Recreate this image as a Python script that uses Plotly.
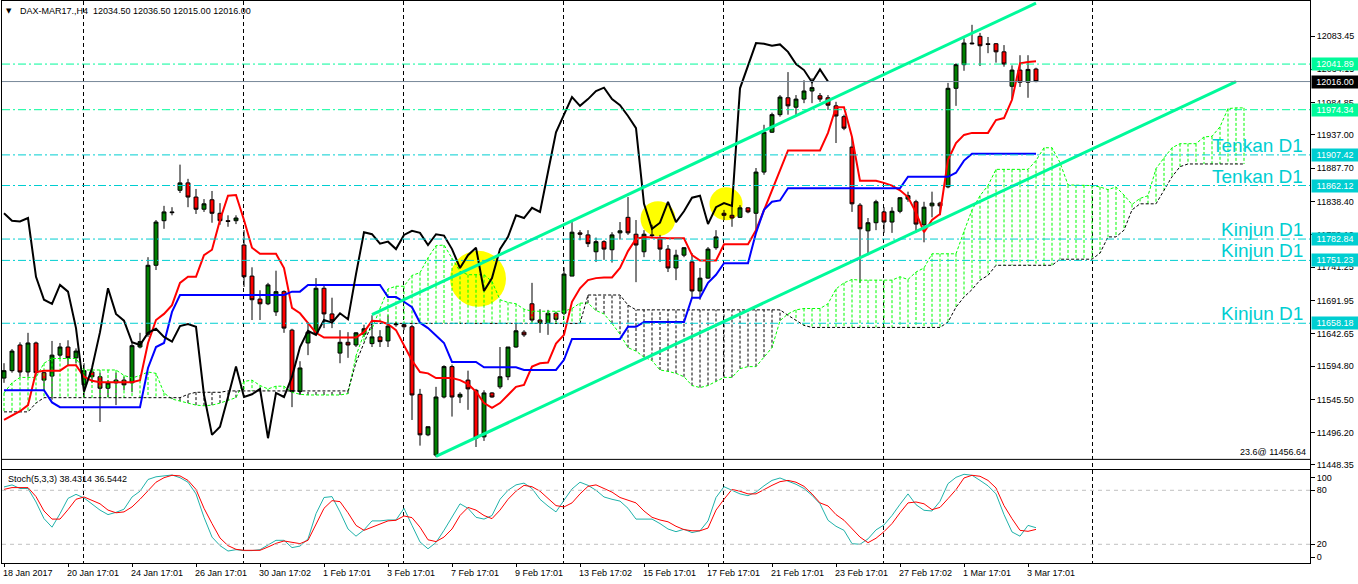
import plotly.graph_objects as go

# DAX-MAR17 H4 candles, one entry per bar (bar 0 = 18 Jan 2017)
bar_open = [
    11577, 11588, 11626, 11586, 11629, 11585, 11580, 11611, 11623, 11607,
    11567, 11586, 11579, 11562, 11570, 11574, 11570, 11623, 11642, 11744,
    11810, 11823, 11855, 11866, 11845, 11827, 11841, 11821, 11810, 11810,
    11774, 11728, 11694, 11687, 11675, 11705, 11648, 11557, 11629, 11644,
    11710, 11672, 11614, 11630, 11626, 11642, 11628, 11638, 11632, 11656,
    11656, 11653, 11553, 11493, 11463, 11549, 11594, 11549, 11574, 11559,
    11490, 11555, 11564, 11579, 11623, 11645, 11687, 11663, 11659, 11673,
    11673, 11728, 11792, 11789, 11764, 11779, 11767, 11792, 11815, 11790,
    11764, 11789, 11783, 11768, 11740, 11759, 11749, 11706, 11725, 11770,
    11821, 11818, 11815, 11829, 11821, 11882, 11941, 11967, 11992, 11978,
    11990, 12002, 11995, 11992, 11980, 11964, 11919, 11833, 11795, 11807,
    11823, 11808, 11824, 11842, 11838, 11804, 11832, 11836, 11860, 12006,
    12041, 12073, 12083, 12072, 12072, 12060, 12009, 12033, 12015, 12034.5,
]
bar_high = [
    11599, 11620, 11630, 11644, 11631, 11586, 11632, 11629, 11633, 11621,
    11599, 11592, 11585, 11574, 11585, 11579, 11629, 11644, 11756, 11811,
    11832, 11830, 11893, 11872, 11857, 11842, 11854, 11836, 11818, 11818,
    11796, 11741, 11707, 11718, 11736, 11707, 11650, 11602, 11660, 11725,
    11715, 11696, 11648, 11645, 11645, 11656, 11670, 11648, 11670, 11660,
    11659, 11656, 11561, 11505, 11564, 11596, 11597, 11556, 11588, 11561,
    11559, 11556, 11623, 11623, 11659, 11648, 11718, 11679, 11678, 11675,
    11741, 11808, 11796, 11796, 11785, 11781, 11793, 11808, 11845, 11811,
    11796, 11804, 11789, 11774, 11767, 11771, 11762, 11740, 11771, 11796,
    11826, 11838, 11833, 11830, 11888, 11952, 11970, 11996, 12030, 11996,
    12018, 12021, 11999, 11996, 11986, 11967, 11934, 11836, 11814, 11841,
    11830, 11830, 11845, 11853, 11841, 11838, 11853, 11838, 12014, 12043,
    12080, 12100, 12088, 12082, 12073, 12070, 12040, 12055, 12055, 12036.5,
]
bar_low = [
    11570, 11585, 11579, 11579, 11579, 11559, 11545, 11607, 11596, 11599,
    11549, 11570, 11512, 11549, 11537, 11559, 11556, 11621, 11638, 11737,
    11798, 11818, 11851, 11830, 11820, 11823, 11807, 11804, 11801, 11805,
    11712, 11663, 11663, 11685, 11669, 11644, 11534, 11552, 11611, 11641,
    11651, 11651, 11599, 11607, 11623, 11638, 11623, 11623, 11623, 11653,
    11648, 11515, 11477, 11491, 11460, 11547, 11520, 11540, 11530, 11475,
    11484, 11548, 11561, 11574, 11622, 11638, 11660, 11644, 11641, 11660,
    11670, 11728, 11781, 11771, 11749, 11752, 11748, 11782, 11789, 11719,
    11756, 11784, 11749, 11734, 11722, 11756, 11696, 11693, 11724, 11767,
    11811, 11801, 11814, 11821, 11792, 11878, 11940, 11964, 11967, 11964,
    11984, 11984, 11986, 11974, 11925, 11944, 11823, 11718, 11759, 11796,
    11792, 11792, 11821, 11838, 11792, 11778, 11815, 11818, 11858, 11980,
    12032, 12071, 12039, 12058, 12044, 12038, 11989, 12008, 11992, 12015,
]
bar_close = [
    11588, 11617, 11586, 11629, 11585, 11574, 11611, 11623, 11607, 11617,
    11588, 11579, 11562, 11570, 11574, 11567, 11625, 11631, 11744, 11808,
    11823, 11822, 11866, 11845, 11827, 11835, 11821, 11810, 11809, 11814,
    11727, 11693, 11687, 11715, 11705, 11651, 11557, 11592, 11645, 11710,
    11672, 11662, 11630, 11626, 11644, 11650, 11638, 11631, 11654, 11657,
    11653, 11552, 11493, 11505, 11549, 11594, 11549, 11553, 11561, 11488,
    11555, 11549, 11579, 11623, 11647, 11641, 11663, 11659, 11673, 11664,
    11731, 11793, 11790, 11776, 11779, 11768, 11789, 11795, 11792, 11774,
    11790, 11788, 11768, 11740, 11759, 11770, 11706, 11725, 11768, 11786,
    11818, 11814, 11829, 11823, 11882, 11941, 11967, 11993, 11980, 11990,
    12002, 12007, 11990, 11981, 11965, 11947, 11835, 11798, 11807, 11838,
    11808, 11824, 11844, 11847, 11805, 11830, 11836, 11832, 12006, 12041,
    12073, 12072, 12069, 12071, 12060, 12042, 12033, 12015, 12034, 12016,
]

# ichimoku lines
tenkan = [
    11515, 11522, 11528, 11537, 11586, 11588, 11588, 11588, 11596, 11596,
    11579, 11573, 11571, 11571, 11571, 11571, 11571, 11574, 11629, 11663,
    11672, 11685, 11718, 11727, 11727, 11759, 11767, 11811, 11847, 11848,
    11811, 11770, 11761, 11761, 11761, 11740, 11681, 11673, 11659, 11644,
    11637, 11637, 11637, 11637, 11637, 11645, 11662, 11661, 11657, 11648,
    11626, 11603, 11586, 11584, 11577, 11577, 11577, 11574, 11568, 11557,
    11540, 11533, 11540, 11552, 11564, 11567, 11594, 11599, 11600, 11628,
    11641, 11690, 11710, 11722, 11725, 11726, 11726, 11740, 11765, 11783,
    11786, 11785, 11784, 11784, 11784, 11784, 11759, 11751, 11751, 11751,
    11775, 11775, 11775, 11775, 11796, 11826, 11856, 11885, 11914, 11914,
    11914, 11914, 11914, 11940, 11978, 11978, 11934, 11869, 11869, 11869,
    11866, 11862, 11855, 11845, 11822, 11793, 11811, 11820, 11900, 11925,
    11937, 11940, 11940, 11940, 11959, 11962, 11989, 12043, 12045, 12046,
]
kijun = [
    11559, 11559, 11559, 11559, 11559, 11559, 11541, 11534, 11534, 11534,
    11534, 11534, 11534, 11534, 11534, 11534, 11534, 11534, 11592, 11623,
    11629, 11675, 11700, 11700, 11700, 11700, 11700, 11700, 11700, 11700,
    11700, 11700, 11700, 11700, 11700, 11700, 11705, 11705, 11715, 11715,
    11715, 11715, 11715, 11715, 11715, 11715, 11715, 11715, 11697, 11697,
    11690, 11682, 11659, 11651, 11640, 11629, 11601, 11601, 11601, 11601,
    11593, 11593, 11593, 11593, 11593, 11589, 11589, 11589, 11589, 11589,
    11604, 11635, 11635, 11635, 11635, 11635, 11635, 11635, 11653, 11653,
    11660, 11660, 11660, 11660, 11660, 11660, 11696, 11696, 11718, 11730,
    11747, 11747, 11747, 11747, 11792, 11826, 11838, 11840, 11858, 11858,
    11858, 11858, 11858, 11858, 11858, 11858, 11858, 11858, 11858, 11858,
    11858, 11858, 11858, 11875, 11875, 11875, 11875, 11875, 11875, 11881,
    11899, 11909, 11909, 11909, 11909, 11909, 11909, 11909, 11909, 11909,
]
# the cloud runs 26 bars past the last candle
senkou_a = [
    11555, 11570, 11578, 11578, 11578, 11599, 11606, 11606, 11606, 11606,
    11589, 11589, 11589, 11589, 11589, 11581, 11577, 11581, 11586, 11584,
    11555, 11546, 11543, 11540, 11537, 11536,
    11537, 11540, 11544, 11548, 11572, 11574, 11566, 11561, 11565, 11565,
    11556, 11553, 11552, 11552, 11552, 11552, 11552, 11554, 11610, 11643,
    11650, 11680, 11709, 11713, 11713, 11729, 11733, 11755, 11773, 11774,
    11755, 11735, 11730, 11730, 11730, 11720, 11693, 11689, 11687, 11679,
    11676, 11676, 11676, 11676, 11676, 11680, 11688, 11688, 11677, 11672,
    11658, 11642, 11622, 11617, 11608, 11603, 11589, 11587, 11584, 11579,
    11566, 11563, 11566, 11572, 11578, 11578, 11591, 11594, 11594, 11608,
    11622, 11662, 11672, 11678, 11680, 11680, 11680, 11687, 11709, 11718,
    11723, 11722, 11722, 11722, 11722, 11722, 11727, 11723, 11734, 11740,
    11761, 11761, 11761, 11761, 11794, 11826, 11847, 11862, 11886, 11886,
    11886, 11886, 11886, 11899, 11918, 11918, 11896, 11863, 11863, 11863,
    11862, 11860, 11856, 11860, 11848, 11834, 11843, 11847, 11887, 11903,
    11918, 11924, 11924, 11924, 11934, 11935, 11949, 11976, 11977, 11977,
]
senkou_b = [
    11527, 11527, 11527, 11527, 11540, 11548, 11548, 11548, 11548, 11548,
    11548, 11548, 11548, 11548, 11548, 11548, 11548, 11548, 11548, 11548,
    11548, 11548, 11548, 11553, 11556, 11556, 11556, 11556, 11558, 11558,
    11558, 11558, 11558, 11558, 11558, 11558, 11558, 11558, 11558, 11558,
    11558, 11558, 11558, 11558, 11600, 11630, 11658, 11658, 11658, 11658,
    11658, 11658, 11658, 11658, 11658, 11658, 11658, 11658, 11658, 11658,
    11658, 11658, 11658, 11658, 11658, 11658, 11658, 11658, 11658, 11658,
    11658, 11658, 11658, 11700, 11700, 11700, 11700, 11700, 11685, 11678,
    11678, 11678, 11678, 11678, 11678, 11678, 11678, 11678, 11678, 11678,
    11678, 11678, 11678, 11678, 11678, 11678, 11678, 11678, 11670, 11662,
    11655, 11652, 11652, 11652, 11652, 11652, 11652, 11652, 11652, 11652,
    11652, 11652, 11652, 11652, 11652, 11652, 11652, 11652, 11660, 11682,
    11697, 11708, 11722, 11729, 11744, 11744, 11744, 11744, 11744, 11744,
    11744, 11744, 11753, 11753, 11753, 11753, 11753, 11762, 11786, 11786,
    11796, 11826, 11835, 11835, 11835, 11855, 11875, 11890, 11894, 11894,
    11894, 11894, 11894, 11894, 11894, 11894,
]

# Stoch(5,3,3)
stoch_k = [
    83.7, 86, 82, 82, 67, 48.5, 39, 54, 71, 75.5,
    71.5, 65, 58, 53, 55.5, 59, 72.5, 79, 92, 95,
    96, 97, 94, 89, 76, 50, 28, 18.5, 12.5, 14,
    13, 13, 14, 19.6, 24.4, 24.4, 16.3, 18, 26, 54,
    72, 73, 56, 37, 29, 36, 46, 46, 47, 47,
    60, 41, 22.6, 15, 22, 35.5, 50, 65, 60, 50,
    48, 52, 70, 80, 86, 88, 82, 70, 62.5, 56,
    69, 81.5, 89, 85.5, 80, 72.6, 70, 68, 60, 48,
    48, 48, 43, 37, 34, 36.7, 33, 35, 46, 72,
    84, 80, 76, 74, 78, 85, 91, 93.7, 90, 86.7,
    82, 74.4, 65, 46.7, 40, 35.5, 20.7, 20, 26, 36,
    41.5, 52, 64.4, 76, 64, 57.8, 57, 67.8, 87.4, 94.4,
    97.8, 96.7, 91, 85, 76, 53, 33.7, 29, 41, 38.43,
]
stoch_d = [
    81, 83, 83, 83, 73, 57, 48, 48, 58.5, 70,
    72.6, 68.5, 65, 58, 55, 56, 61.5, 70, 80, 89,
    94, 96.7, 96, 91, 81, 60, 43, 27, 18.5, 14.4,
    13.3, 13.3, 13.3, 17, 21, 23.7, 22, 20.7, 24.4, 42,
    60, 68.5, 67.4, 55, 41, 35.5, 39, 42, 46, 46.7,
    51.5, 49.6, 39, 25, 23, 28, 37, 52, 61, 58,
    52, 48.5, 58, 70, 79, 85.5, 84, 79, 70.7, 63,
    61.5, 66, 76, 84.4, 86, 82, 78, 72, 69, 66,
    57, 50, 47, 45, 40, 36.3, 35, 35, 38, 58,
    70, 81, 79, 76, 76, 81, 85.5, 89.6, 91, 89,
    84.4, 76, 66, 62.6, 53, 46.7, 37.8, 28, 21.8, 26.7,
    34, 43, 55, 66, 67, 65, 58.5, 61, 70.7, 80.7,
    93.7, 96.7, 95.6, 91, 82.6, 63, 48.5, 35.5, 34.4, 36.54,
]

date_labels = [
    '18 Jan 2017', '20 Jan 17:01', '24 Jan 17:01', '26 Jan 17:01', '30 Jan 17:02',
    '1 Feb 17:01', '3 Feb 17:01', '7 Feb 17:01', '9 Feb 17:01', '13 Feb 17:02',
    '15 Feb 17:01', '17 Feb 17:01', '21 Feb 17:01', '23 Feb 17:01', '27 Feb 17:02',
    '1 Mar 17:01', '3 Mar 17:01',
]
price_ticks = [12083.45, 12034.15, 11984.85, 11937.00, 11887.70, 11838.40, 11789.10,
               11741.25, 11691.95, 11642.65, 11594.80, 11545.50, 11496.20, 11448.35]

# objects drawn on the chart by hand
level_prices = [12041.89, 12016.00, 11974.34, 11907.42, 11862.12, 11782.84, 11751.23, 11658.18]
level_names = ['', '', '', 'Tenkan D1', 'Tenkan D1', 'Kinjun D1', 'Kinjun D1', 'Kinjun D1']
channel_top_bars = [46, 129]
channel_top_prices = [11671, 12132]
channel_low_bars = [54, 154]
channel_low_prices = [11461, 12016]
fib_price = 11456.64
circle_bars = [59.25, 81.75, 90.25]
circle_prices = [11724, 11813, 11835]
circle_radius_px = [28, 17.5, 16.5]

# colours
MINT = 'rgb(0,250,154)'
TURQ = 'rgb(0,206,209)'
FONT = 'Liberation Sans, Arial, sans-serif'

n_bars = len(bar_close)
bars = list(range(n_bars))
cloud_bars = list(range(len(senkou_a)))
grid_bars = [9.875, 29.875, 49.875, 69.875, 89.875, 109.875, 136]
label_bars = [8 * k for k in range(len(date_labels))]

level_colors = [MINT, 'lightslategray', MINT, TURQ, TURQ, TURQ, TURQ, TURQ]
level_box = [MINT, 'black', MINT, TURQ, TURQ, TURQ, TURQ, TURQ]

# px per bar and per point, used for the highlight circles
px_per_bar = 8.0
px_per_point = 0.6755


def hatch(green):
    # vertical dotted strokes between the two senkou spans, one per bar
    xs, ys = [], []
    for i, (a, b) in enumerate(zip(senkou_a, senkou_b)):
        if (a >= b) == green:
            xs += [i, i, None]
            ys += [a, b, None]
    return xs, ys


fig = go.Figure()

gx, gy = hatch(True)
fig.add_trace(go.Scatter(x=gx, y=gy, mode='lines', line=dict(color='lime', width=1, dash='3px,2px'),
                         hoverinfo='skip'))
bx, by = hatch(False)
fig.add_trace(go.Scatter(x=bx, y=by, mode='lines', line=dict(color='black', width=1, dash='3px,2px'),
                         hoverinfo='skip'))
fig.add_trace(go.Scatter(x=cloud_bars, y=senkou_a, mode='lines',
                         line=dict(color='lime', width=1, dash='3px,2px')))
fig.add_trace(go.Scatter(x=cloud_bars, y=senkou_b, mode='lines',
                         line=dict(color='black', width=1, dash='3px,2px')))

fig.add_trace(go.Candlestick(
    x=bars, open=bar_open, high=bar_high, low=bar_low, close=bar_close,
    increasing=dict(fillcolor='green', line=dict(color='black', width=1)),
    decreasing=dict(fillcolor='red', line=dict(color='black', width=1)),
    whiskerwidth=0,
))

fig.add_trace(go.Scatter(x=bars, y=tenkan, mode='lines', line=dict(color='red', width=2)))
fig.add_trace(go.Scatter(x=bars, y=kijun, mode='lines', line=dict(color='blue', width=2)))
# chikou span = close shifted 26 bars back
fig.add_trace(go.Scatter(x=bars[:n_bars - 26], y=bar_close[26:], mode='lines',
                         line=dict(color='black', width=2)))

fig.add_trace(go.Scatter(x=channel_top_bars, y=channel_top_prices, mode='lines',
                         line=dict(color=MINT, width=3)))
fig.add_trace(go.Scatter(x=channel_low_bars, y=channel_low_prices, mode='lines',
                         line=dict(color=MINT, width=3)))

fig.add_trace(go.Scatter(x=bars, y=stoch_k, mode='lines', line=dict(color='lightseagreen', width=1),
                         xaxis='x2', yaxis='y2'))
fig.add_trace(go.Scatter(x=bars, y=stoch_d, mode='lines', line=dict(color='red', width=1),
                         xaxis='x2', yaxis='y2'))

# yellow highlight circles (drawn behind the chart)
for cb, cp, r in zip(circle_bars, circle_prices, circle_radius_px):
    fig.add_shape(type='circle', xref='x', yref='y', layer='between',
                  x0=cb - r / px_per_bar, x1=cb + r / px_per_bar,
                  y0=cp - r / px_per_point, y1=cp + r / px_per_point,
                  fillcolor='yellow', line=dict(width=0))

# horizontal levels
for price, col, name, box in zip(level_prices, level_colors, level_names, level_box):
    solid = col == 'lightslategray'
    fig.add_shape(type='line', xref='x domain', yref='y', x0=0, x1=1, y0=price, y1=price,
                  layer='above',
                  line=dict(color=col, width=1, dash='solid' if solid else '8px,3px,2px,3px'))
    fig.add_annotation(x=1, xref='paper', xanchor='left', xshift=1, y=price, yref='y',
                       text='%.2f' % price, showarrow=False, bgcolor=box, borderpad=1, width=44,
                       font=dict(family=FONT, size=9, color='white'))
    if name:
        fig.add_annotation(x=1, xref='x domain', xanchor='right', xshift=-5, y=price, yref='y',
                           yanchor='bottom', yshift=-3, text=name, showarrow=False,
                           font=dict(family=FONT, size=19, color=TURQ))

# fibo 23.6 line
fig.add_shape(type='line', xref='x domain', yref='y', x0=0, x1=1, y0=fib_price, y1=fib_price,
              layer='above', line=dict(color='black', width=1))
fig.add_annotation(x=1, xref='x domain', xanchor='right', xshift=-2, y=fib_price, yref='y',
                   yanchor='bottom', text='23.6@ %.2f' % fib_price, showarrow=False,
                   font=dict(family=FONT, size=9, color='black'))

# stochastic 80 / 20 levels
for lvl in [80, 20]:
    fig.add_shape(type='line', xref='x2 domain', yref='y2', x0=0, x1=1, y0=lvl, y1=lvl,
                  line=dict(color='silver', width=1, dash='4px,4px'))

# header texts
fig.add_annotation(x=0, xref='paper', xanchor='left', xshift=2, y=1, yref='paper', yanchor='top',
                   yshift=-4, text='▼', showarrow=False, font=dict(family='DejaVu Sans', size=7, color='black'))
fig.add_annotation(x=0, xref='paper', xanchor='left', xshift=16, y=1, yref='paper', yanchor='top',
                   yshift=-3, text='DAX-MAR17.,H4  12034.50 12036.50 12015.00 12016.00', showarrow=False,
                   font=dict(family=FONT, size=9, color='black'))
fig.add_annotation(x=0, xref='x2 domain', xanchor='left', xshift=4, y=1, yref='y2 domain', yanchor='top',
                   yshift=-2, text='Stoch(5,3,3) 38.4314 36.5442', showarrow=False,
                   font=dict(family=FONT, size=9, color='black'))

# time labels under the stochastic panel, left aligned on their bar
for b, lab in zip(label_bars, date_labels):
    fig.add_annotation(x=b, xref='x2', xanchor='left', xshift=-3, y=0, yref='paper', yanchor='top',
                       yshift=-3, text=lab, showarrow=False, font=dict(family=FONT, size=9, color='black'))

x_range = [-0.25, 163.25]
axis_common = dict(showline=True, linecolor='black', linewidth=1, mirror=True, zeroline=False)

fig.update_layout(
    width=1358, height=584,
    margin=dict(l=2, r=48, t=1, b=21),
    paper_bgcolor='white', plot_bgcolor='white',
    showlegend=False,
    font=dict(family=FONT, size=9, color='black'),
    xaxis=dict(domain=[0, 1], anchor='y', range=x_range, tickmode='array', tickvals=grid_bars,
               showticklabels=False, ticks='', showgrid=True, gridcolor='black', gridwidth=1,
               griddash='4px,3px', rangeslider=dict(visible=False), **axis_common),
    yaxis=dict(domain=[0.1673, 1], anchor='x', side='right', range=[11442.45, 12135.26],
               tickmode='array', tickvals=price_ticks, ticktext=['%.2f' % v for v in price_ticks],
               ticks='outside', ticklen=4, tickcolor='black', showgrid=False, **axis_common),
    xaxis2=dict(domain=[0, 1], anchor='y2', range=x_range, matches='x', tickmode='array',
                tickvals=grid_bars, showticklabels=False, ticks='', showgrid=True, gridcolor='black',
                gridwidth=1, griddash='4px,3px',
                minor=dict(tickmode='array', tickvals=label_bars, ticks='outside', ticklen=3,
                           tickcolor='black', showgrid=False),
                **axis_common),
    yaxis2=dict(domain=[0, 0.1649], anchor='x2', side='right', range=[-0.8, 102.2],
                tickmode='array', tickvals=[94.4, 80, 20, 5.6], ticktext=['100', '80', '20', '0'],
                ticks='outside', ticklen=4, tickcolor='black', showgrid=False, **axis_common),
)

# the page body has a default 8px margin, drop it so the chart sits at the window corner
fig.write_html("out.html", config={'displayModeBar': False},
               post_script="document.body.style.margin = '0';")
